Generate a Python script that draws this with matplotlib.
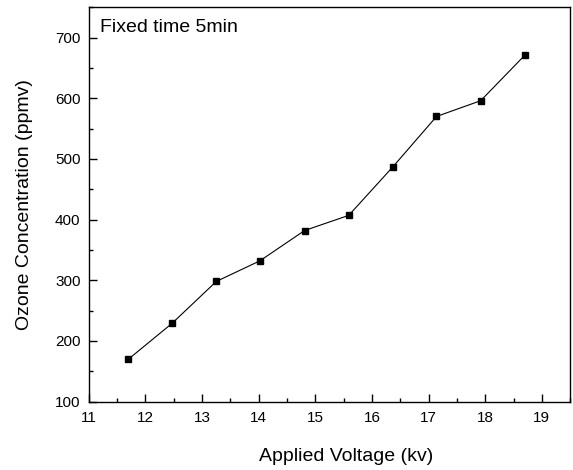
import matplotlib
matplotlib.use("Agg")
import matplotlib.pyplot as plt
from matplotlib.ticker import MultipleLocator

voltage = [11.70, 12.47, 13.25, 14.02, 14.81, 15.59, 16.37, 17.14, 17.92, 18.70]
ozone = [170, 229, 298, 332, 382, 407, 487, 570, 596, 671]

plt.rcParams["font.family"] = ["Liberation Sans", "DejaVu Sans"]

fig = plt.figure(figsize=(5.73, 4.70), dpi=100)
ax = fig.add_axes([0.155, 0.1455, 0.84, 0.839])

ax.plot(voltage, ozone, color="black", lw=0.8, marker="s", markersize=5,
        markerfacecolor="black", markeredgecolor="black")

ax.set_xlim(11, 19.5)
ax.set_ylim(100, 750)
ax.xaxis.set_major_locator(MultipleLocator(1))
ax.xaxis.set_minor_locator(MultipleLocator(0.5))
ax.yaxis.set_major_locator(MultipleLocator(100))
ax.yaxis.set_minor_locator(MultipleLocator(50))
ax.tick_params(which="both", direction="in", labelsize=11, width=1)
ax.tick_params(which="major", length=6)
ax.tick_params(which="minor", length=3)
ax.tick_params(axis="x", pad=7)
ax.tick_params(axis="y", pad=6)
for s in ax.spines.values():
    s.set_linewidth(1)

ax.set_xlabel("Applied Voltage (kv)", fontsize=14)
ax.xaxis.set_label_coords(0.5336, -0.118)
ax.set_ylabel("Ozone Concentration (ppmv)", fontsize=14, labelpad=16)
ax.text(0.0235, 0.9374, "Fixed time 5min", transform=ax.transAxes,
        fontsize=14, ha="left", va="baseline")

fig.savefig("out.png", dpi=100)
